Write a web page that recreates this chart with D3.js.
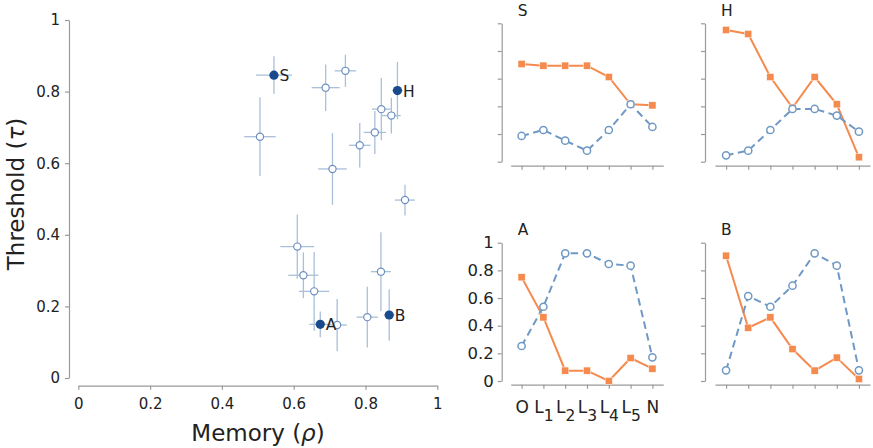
<!DOCTYPE html>
<html><head><meta charset="utf-8">
<script src="https://cdn.jsdelivr.net/npm/d3@7"></script>
<style>body{margin:0;background:#fff} text{font-family:"DejaVu Sans",sans-serif;fill:#222}</style>
</head><body><svg id="c" width="873" height="448"></svg>
<script>
// ---- scatter data (open points) ----
const rho    = [0.506, 0.689, 0.744, 0.708, 0.910, 0.844, 0.872, 0.826, 0.784, 0.610, 0.627, 0.657, 0.721, 0.805, 0.843];
const tau    = [0.674, 0.811, 0.858, 0.584, 0.497, 0.751, 0.733, 0.686, 0.650, 0.367, 0.287, 0.242, 0.148, 0.170, 0.297];
const rhoErr = [0.044, 0.039, 0.030, 0.040, 0.028, 0.026, 0.026, 0.031, 0.030, 0.047, 0.042, 0.042, 0.027, 0.030, 0.028];
const tauErr = [0.110, 0.065, 0.045, 0.100, 0.043, 0.087, 0.050, 0.060, 0.062, 0.090, 0.064, 0.110, 0.073, 0.085, 0.110];
// ---- highlighted points ----
const hiNames  = ["S", "H", "A", "B"];
const hiRho    = [0.545, 0.889, 0.674, 0.866];
const hiTau    = [0.846, 0.803, 0.150, 0.176];
const hiRhoErr = [0.050, 0.015, 0.030, 0.015];
const hiTauErr = [0.053, 0.080, 0.036, 0.072];
// ---- ticks ----
const scatterTicks = [0, 0.2, 0.4, 0.6, 0.8, 1];
const scatterTickLabels = ["0", "0.2", "0.4", "0.6", "0.8", "1"];
// ---- panel data ----
const stages = ["O", "L1", "L2", "L3", "L4", "L5", "N"];
const stageMain = ["O", "L", "L", "L", "L", "L", "N"];
const stageSub  = ["", "1", "2", "3", "4", "5", ""];
const orangeS = [0.706, 0.694, 0.694, 0.694, 0.612, 0.415, 0.407];
const blueS   = [0.186, 0.229, 0.152, 0.080, 0.229, 0.415, 0.251];
const orangeH = [0.952, 0.923, 0.612, 0.390, 0.612, 0.415, 0.032];
const blueH   = [0.046, 0.080, 0.229, 0.381, 0.381, 0.333, 0.217];
const orangeA = [0.750, 0.460, 0.075, 0.075, 0.000, 0.166, 0.089];
const blueA   = [0.253, 0.537, 0.923, 0.923, 0.846, 0.834, 0.171];
const orangeB = [0.906, 0.385, 0.460, 0.231, 0.075, 0.169, 0.015];
const blueB   = [0.077, 0.614, 0.537, 0.689, 0.923, 0.834, 0.077];
const panelTicks = [0, 0.2, 0.4, 0.6, 0.8, 1];
const panelTickLabels = ["0", "0.2", "0.4", "0.6", "0.8", "1"];

const svg = d3.select("#c");
const AX = "#9a9a9a";
const ORANGE = "#f58a4e", BLUE = "#6f99c4";

function styleAxis(g){
  g.select(".domain").attr("stroke", AX).attr("stroke-width", 1.2);
  g.selectAll(".tick line").attr("stroke", AX).attr("stroke-width", 1.2);
  g.selectAll(".tick text").attr("fill", "#222");
}

// ===== scatter =====
const x = d3.scaleLinear().domain([0, 1]).range([78.3, 437.3]);
const y = d3.scaleLinear().domain([0, 1]).range([378, 20]);

const gy = svg.append("g").attr("transform", "translate(69,0)")
  .call(d3.axisLeft(y).tickValues(scatterTicks).tickFormat((d,i)=>scatterTickLabels[i]).tickSize(4).tickSizeOuter(0).tickPadding(5));
gy.selectAll("text").attr("font-size", 15);
styleAxis(gy);
const gx = svg.append("g").attr("transform", "translate(0,385.7)")
  .call(d3.axisBottom(x).tickValues(scatterTicks).tickFormat((d,i)=>scatterTickLabels[i]).tickSize(4).tickSizeOuter(0).tickPadding(9));
gx.selectAll("text").attr("font-size", 15);
styleAxis(gx);

svg.append("text").attr("x", 258).attr("y", 441).attr("text-anchor", "middle").attr("font-size", 23)
  .html('Memory (<tspan font-style="italic">ρ</tspan>)');
svg.append("text").attr("transform", "translate(24,194) rotate(-90)").attr("text-anchor", "middle").attr("font-size", 23)
  .html('Threshold (<tspan font-style="italic">τ</tspan>)');

const ERR = "#a9bfda";
const allIdx = d3.range(rho.length);
const eb = svg.append("g").attr("stroke", ERR).attr("stroke-width", 1.3);
allIdx.forEach(i => {
  eb.append("line").attr("x1", x(rho[i]-rhoErr[i])).attr("x2", x(rho[i]+rhoErr[i])).attr("y1", y(tau[i])).attr("y2", y(tau[i]));
  eb.append("line").attr("x1", x(rho[i])).attr("x2", x(rho[i])).attr("y1", y(tau[i]-tauErr[i])).attr("y2", y(tau[i]+tauErr[i]));
});
hiNames.forEach((n,i) => {
  eb.append("line").attr("x1", x(hiRho[i]-hiRhoErr[i])).attr("x2", x(hiRho[i]+hiRhoErr[i])).attr("y1", y(hiTau[i])).attr("y2", y(hiTau[i]));
  eb.append("line").attr("x1", x(hiRho[i])).attr("x2", x(hiRho[i])).attr("y1", y(hiTau[i]-hiTauErr[i])).attr("y2", y(hiTau[i]+hiTauErr[i]));
});
svg.append("g").selectAll("circle").data(allIdx).join("circle")
  .attr("cx", i => x(rho[i])).attr("cy", i => y(tau[i])).attr("r", 3.6)
  .attr("fill", "#fff").attr("stroke", "#6d8fc0").attr("stroke-width", 1.2);
svg.append("g").selectAll("circle").data(hiNames).join("circle")
  .attr("cx", (d,i) => x(hiRho[i])).attr("cy", (d,i) => y(hiTau[i])).attr("r", 4.6)
  .attr("fill", "#184a8c");
svg.append("g").selectAll("text").data(hiNames).join("text")
  .attr("x", (d,i) => x(hiRho[i]) + 5.5).attr("y", (d,i) => y(hiTau[i]) + 6)
  .attr("font-size", 15.5).text(d => d);

// ===== panels =====
const panels = [
  {name:"S", o:orangeS, b:blueS, sx:501.7, x0:510.7, x1:663.3, yTop:23.3, yBot:161.7, xAxisY:165.7, labels:false},
  {name:"H", o:orangeH, b:blueH, sx:705,   x0:715,   x1:870,   yTop:23.3, yBot:161.7, xAxisY:165.7, labels:false},
  {name:"A", o:orangeA, b:blueA, sx:501.7, x0:510.7, x1:663.3, yTop:242.7, yBot:381, xAxisY:384.7, labels:true},
  {name:"B", o:orangeB, b:blueB, sx:705,   x0:715,   x1:870,   yTop:242.7, yBot:381, xAxisY:384.7, labels:false}
];
panels.forEach(p => {
  const px = d3.scalePoint().domain(stages).range([p.x0, p.x1]).padding(0.5);
  const py = d3.scaleLinear().domain([0, 1]).range([p.yBot, p.yTop]);
  const g = svg.append("g");
  const ya = g.append("g").attr("transform", `translate(${p.sx},0)`)
    .call(d3.axisLeft(py).tickValues(panelTicks).tickSize(4).tickSizeOuter(0).tickPadding(4)
      .tickFormat((d,i) => p.labels ? panelTickLabels[i] : ""));
  ya.selectAll("text").attr("font-size", 16.5);
  styleAxis(ya);
  const xa = g.append("g").attr("transform", `translate(0,${p.xAxisY})`)
    .call(d3.axisBottom(px).tickSize(4).tickSizeOuter(0).tickFormat(() => ""));
  styleAxis(xa);
  if (p.labels) {
    xa.selectAll(".tick text").each(function(d){
      const i = stages.indexOf(d);
      const t = d3.select(this).attr("y", 28.3).attr("dy", 0).attr("font-size", 17);
      t.append("tspan").text(stageMain[i]);
      if (stageSub[i]) t.append("tspan").attr("font-size", 15.5).attr("dy", 8).text(stageSub[i]);
    });
  }
  g.append("text").attr("x", p.sx + 16).attr("y", p.yTop - 7.5).attr("font-size", 15.5).text(p.name);

  const line = d3.line().x((d,i) => px(stages[i])).y(d => py(d));
  g.append("path").datum(p.o).attr("d", line).attr("fill", "none").attr("stroke", ORANGE).attr("stroke-width", 2);
  g.append("path").datum(p.b).attr("d", line).attr("fill", "none").attr("stroke", BLUE).attr("stroke-width", 2).attr("stroke-dasharray", "7.5,4.5");
  g.selectAll(".sq").data(p.o).join("rect").attr("class", "sq")
    .attr("x", (d,i) => px(stages[i]) - 3.6).attr("y", d => py(d) - 3.6).attr("width", 7.2).attr("height", 7.2)
    .attr("fill", ORANGE).attr("stroke", "#fff").attr("stroke-width", 0.5);
  g.selectAll(".ci").data(p.b).join("circle").attr("class", "ci")
    .attr("cx", (d,i) => px(stages[i])).attr("cy", d => py(d)).attr("r", 3.6)
    .attr("fill", "#fff").attr("stroke", BLUE).attr("stroke-width", 1.5);
});
</script></body></html>
